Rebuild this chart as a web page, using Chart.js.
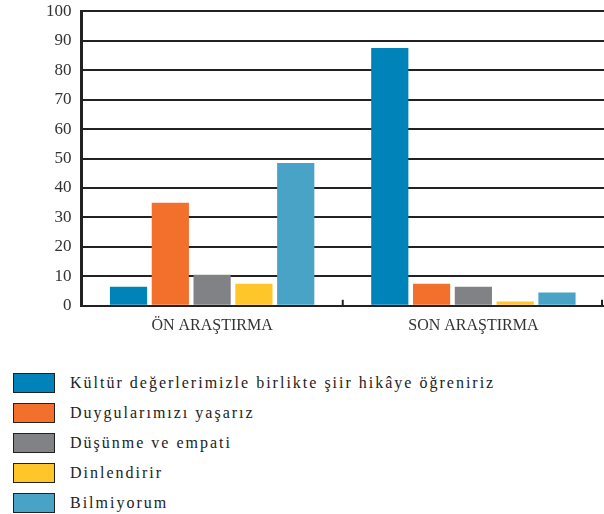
<!DOCTYPE html>
<html>
<head>
<meta charset="utf-8">
<script src="https://cdn.jsdelivr.net/npm/chart.js@4"></script>
<style>
  html, body { margin: 0; padding: 0; background: #fff; }
  #wrap { position: absolute; left: 0; top: -9px; width: 604px; height: 343px; }
  #legend { position: absolute; left: 13px; top: 373px; margin: 0; padding: 0; list-style: none;
    font-family: "Liberation Serif", "Times New Roman", serif; font-size: 16px; letter-spacing: 2px; color: #222; }
  #legend li { height: 30px; display: flex; align-items: flex-start; }
  #legend span.box { display: inline-block; width: 40px; height: 18px; border: 1px solid #222; margin-right: 15px; }
  #legend span.txt { line-height: 20px; }
</style>
</head>
<body>
<div id="wrap"><canvas id="chartDiv"></canvas></div>
<ul id="legend"></ul>
<script>
const categories = ['ÖN ARAŞTIRMA', 'SON ARAŞTIRMA']
const seriesNames = [
  'Kültür değerlerimizle birlikte şiir hikâye öğreniriz',
  'Duygularımızı yaşarız',
  'Düşünme ve empati',
  'Dinlendirir',
  'Bilmiyorum'
]
const kultur = [6.5, 87.5]
const duygu = [35, 7.5]
const dusunme = [10.5, 6.5]
const dinlen = [7.5, 1.5]
const bilmiyorum = [48.5, 4.5]
const yTicks = [0, 10, 20, 30, 40, 50, 60, 70, 80, 90, 100]

const colors = ['#0083b9', '#f2702c', '#818285', '#ffc629', '#48a3c6']
const values = [kultur, duygu, dusunme, dinlen, bilmiyorum]
const serif = '"Liberation Serif", "Times New Roman", serif'

// small upward tick marks at the category boundaries
const innerTicks = {
  id: 'innerTicks',
  afterDraw(chart) {
    const x = chart.scales.x
    const ctx = chart.ctx
    const bottom = chart.chartArea.bottom
    const step = x.getPixelForValue(1) - x.getPixelForValue(0)
    ctx.save()
    ctx.strokeStyle = '#222'
    ctx.lineWidth = 2
    for (let i = 0; i < categories.length; i++) {
      let pos = x.getPixelForValue(i) + step / 2
      if (i === categories.length - 1) pos -= 2
      ctx.beginPath()
      ctx.moveTo(pos, bottom)
      ctx.lineTo(pos, bottom - 6)
      ctx.stroke()
    }
    ctx.restore()
  }
}

const chartElement = document.getElementById('chartDiv')

const chart = new Chart(chartElement, {
  type: 'bar',
  data: {
    labels: categories,
    datasets: seriesNames.map((name, i) => ({
      label: name,
      data: values[i],
      backgroundColor: colors[i],
      categoryPercentage: 0.8,
      barPercentage: 0.89,
    }))
  },
  options: {
    responsive: true,
    maintainAspectRatio: false,
    animation: false,
    layout: {
      padding: { left: 36, top: 0, right: 0, bottom: -3 }
    },
    scales: {
      y: {
        min: 0,
        max: 100,
        afterBuildTicks: (axis) => { axis.ticks = yTicks.map(v => ({ value: v })) },
        grid: {
          color: '#222',
          lineWidth: 2,
          drawTicks: false,
        },
        border: {
          display: true,
          color: '#222',
          width: 3,
        },
        ticks: {
          padding: 10,
          color: '#333',
          font: { size: 17, family: serif },
        },
      },
      x: {
        grid: {
          display: false,
        },
        border: {
          display: true,
          color: '#222',
          width: 2,
        },
        ticks: {
          padding: 2,
          color: '#333',
          font: { size: 16, family: serif },
        },
      }
    },
    plugins: {
      legend: { display: false },
      tooltip: { enabled: false },
    }
  },
  plugins: [innerTicks]
})

const legendList = document.getElementById('legend')
chart.data.datasets.forEach(ds => {
  const li = document.createElement('li')
  const box = document.createElement('span')
  box.className = 'box'
  box.style.background = ds.backgroundColor
  const txt = document.createElement('span')
  txt.className = 'txt'
  txt.textContent = ds.label
  li.appendChild(box)
  li.appendChild(txt)
  legendList.appendChild(li)
})
</script>
</body>
</html>
